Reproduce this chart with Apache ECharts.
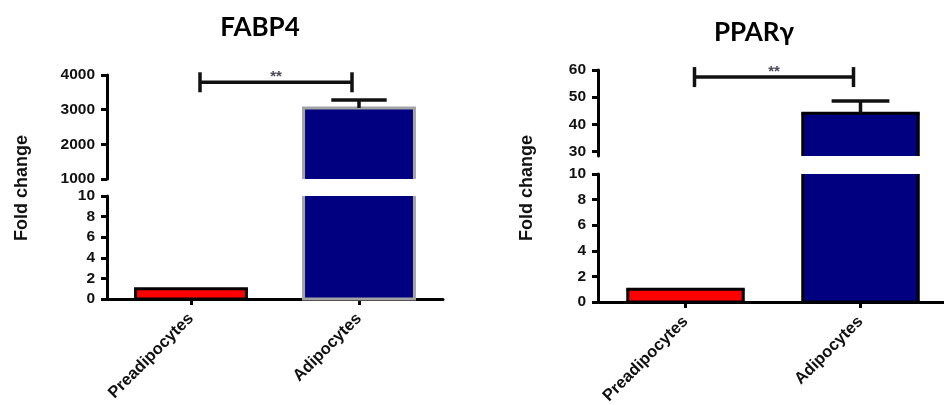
<!DOCTYPE html>
<html>
<head>
<meta charset="utf-8">
<script src="https://cdn.jsdelivr.net/npm/echarts@6/dist/echarts.min.js"></script>
<style>
  html, body { margin: 0; padding: 0; background: #ffffff; }
  #chart { width: 944px; height: 405px; }
</style>
</head>
<body>
<div id="chart"></div>
<script>
// ---------------- data ----------------
const categories = ['Preadipocytes', 'Adipocytes'];
const titles = ['FABP4', 'PPARγ'];
const yTitle = 'Fold change';
const sigLabel = '**';

const fabpMeans = [1.0, 3050];
const fabpSem = [0, 230];
const fabpUpperTicks = [1000, 2000, 3000, 4000];
const fabpLowerTicks = [0, 2, 4, 6, 8, 10];
const fabpBreakMin = 1000;
const fabpSigY = 3790;

const pparMeans = [1.0, 44.1];
const pparSem = [0, 4.5];
const pparUpperTicks = [30, 40, 50, 60];
const pparLowerTicks = [0, 2, 4, 6, 8, 10];
const pparBreakMin = 28.4;
const pparSigY = 57.4;

// ---------------- styles ----------------
const fillColors = ['#ff0000', '#000080'];
const fabpBorder = ['#000000', '#a3a3a3'];
const pparBorder = ['#000000', '#000000'];
const BAR_RATIO = 0.66;
const CAP_RATIO = 0.33;
const FONT = '"Liberation Sans", Arial, sans-serif';

const chart = echarts.init(document.getElementById('chart'), null, { renderer: 'canvas' });

const grids = [
  { left: 107, top: 75, width: 336, height: 104, outerBoundsMode: 'none', containLabel: false },
  { left: 107, top: 196, width: 336, height: 103, outerBoundsMode: 'none', containLabel: false },
  { left: 598, top: 70, width: 350, height: 86, outerBoundsMode: 'none', containLabel: false },
  { left: 598, top: 174, width: 350, height: 128, outerBoundsMode: 'none', containLabel: false }
];

function xAxisDef(gi, showAxis) {
  return {
    type: 'category', gridIndex: gi, data: categories,
    show: showAxis,
    axisLine: { show: true, onZero: false, lineStyle: { color: '#000', width: 3 } },
    axisTick: { show: true, alignWithLabel: true, length: 6, lineStyle: { color: '#000', width: 3 } },
    axisLabel: { rotate: 45, margin: 17, color: '#111', fontFamily: FONT, fontWeight: 'bold', fontSize: 16.5 },
    splitLine: { show: false }
  };
}

function yAxisDef(gi, min, max, ticks) {
  return {
    type: 'value', gridIndex: gi, min: min, max: max,
    axisLine: { show: true, lineStyle: { color: '#000', width: 3 } },
    axisTick: { show: true, length: 6, lineStyle: { color: '#000', width: 3 }, customValues: ticks },
    axisLabel: { color: '#111', fontFamily: FONT, fontWeight: 'bold', fontSize: 15.5, margin: 12,
                 customValues: ticks, formatter: function (v) { return String(v); } },
    splitLine: { show: false }
  };
}

function barSeries(gi, means) {
  return {
    type: 'bar', xAxisIndex: gi, yAxisIndex: gi, barWidth: (BAR_RATIO * 100) + '%',
    clip: true, silent: true, z: 2,
    data: means.map((v, i) => ({ value: v, itemStyle: { color: fillColors[i] } }))
  };
}

function outlineSeries(gi, means, borders) {
  return {
    type: 'custom', xAxisIndex: gi, yAxisIndex: gi, silent: true, z: 3,
    data: means.map((v, i) => [i, v]),
    renderItem: function (params, api) {
      const cs = params.coordSys;
      const idx = api.value(0), v = api.value(1);
      const bw = api.size([1, 0])[0] * BAR_RATIO;
      const top = api.coord([idx, v]);
      const base = api.coord([idx, 0]);
      const aTop = cs.y, aBot = cs.y + cs.height;
      if (top[1] >= aBot) return null;
      const yT = Math.max(top[1], aTop);
      const yB = Math.min(base[1], aBot);
      const xl = top[0] - bw / 2, xr = top[0] + bw / 2;
      const style = { stroke: borders[params.dataIndex], lineWidth: 3, fill: null };
      const ch = [];
      ch.push({ type: 'line', shape: { x1: xl, y1: yB, x2: xl, y2: yT }, style: style });
      ch.push({ type: 'line', shape: { x1: xr, y1: yB, x2: xr, y2: yT }, style: style });
      if (top[1] >= aTop) ch.push({ type: 'line', shape: { x1: xl - 1.5, y1: yT, x2: xr + 1.5, y2: yT }, style: style });
      if (base[1] <= aBot) ch.push({ type: 'line', shape: { x1: xl - 1.5, y1: yB, x2: xr + 1.5, y2: yB }, style: style });
      return { type: 'group', children: ch };
    }
  };
}

function errorSeries(gi, means, sems) {
  return {
    type: 'custom', xAxisIndex: gi, yAxisIndex: gi, silent: true, z: 4,
    data: means.map((v, i) => [i, v, v + sems[i]]).filter((d, i) => sems[i] > 0),
    renderItem: function (params, api) {
      const idx = api.value(0);
      const p0 = api.coord([idx, api.value(1)]);
      const p1 = api.coord([idx, api.value(2)]);
      const cw = api.size([1, 0])[0] * CAP_RATIO;
      const style = { stroke: '#111', lineWidth: 3.5, fill: null };
      return {
        type: 'group', children: [
          { type: 'line', shape: { x1: p0[0], y1: p0[1], x2: p1[0], y2: p1[1] }, style: style },
          { type: 'line', shape: { x1: p1[0] - cw / 2, y1: p1[1], x2: p1[0] + cw / 2, y2: p1[1] }, style: style }
        ]
      };
    }
  };
}

function bracketSeries(gi, y) {
  return {
    type: 'custom', xAxisIndex: gi, yAxisIndex: gi, silent: true, z: 5, clip: false,
    data: [[0, 1, y]],
    renderItem: function (params, api) {
      const a = api.coord([api.value(0), api.value(2)]);
      const b = api.coord([api.value(1), api.value(2)]);
      const x0 = a[0] + 9, x1 = b[0] - 7, yy = a[1];
      const style = { stroke: '#111', lineWidth: 3.5, fill: null };
      return {
        type: 'group', children: [
          { type: 'line', shape: { x1: x0, y1: yy, x2: x1, y2: yy }, style: style },
          { type: 'line', shape: { x1: x0, y1: yy - 10, x2: x0, y2: yy + 10 }, style: style },
          { type: 'line', shape: { x1: x1, y1: yy - 10, x2: x1, y2: yy + 10 }, style: style },
          { type: 'text', x: (x0 + x1) / 2, y: yy - 5,
            style: { text: sigLabel, align: 'center', verticalAlign: 'middle', fill: '#4a4a5a',
                     font: 'bold 15px ' + FONT } }
        ]
      };
    }
  };
}

const titleStyle = { fontFamily: 'Lato, sans-serif', fontWeight: 'bold', fontSize: 26, color: '#000' };

const option = {
  backgroundColor: '#ffffff',
  animation: false,
  title: [
    { text: titles[0], left: 255, top: 10, textAlign: 'center', textStyle: titleStyle },
    { text: titles[1], left: 749, top: 15, textAlign: 'center', textStyle: titleStyle }
  ],
  graphic: [
    { type: 'text', x: 22, y: 188, rotation: Math.PI / 2,
      style: { text: yTitle, align: 'center', verticalAlign: 'middle', fill: '#111', font: 'bold 18px ' + FONT } },
    { type: 'text', x: 527, y: 188, rotation: Math.PI / 2,
      style: { text: yTitle, align: 'center', verticalAlign: 'middle', fill: '#111', font: 'bold 18px ' + FONT } }
  ],
  grid: grids,
  xAxis: [xAxisDef(0, false), xAxisDef(1, true), xAxisDef(2, false), xAxisDef(3, true)],
  yAxis: [
    yAxisDef(0, fabpBreakMin, fabpUpperTicks[fabpUpperTicks.length - 1], fabpUpperTicks),
    yAxisDef(1, fabpLowerTicks[0], fabpLowerTicks[fabpLowerTicks.length - 1], fabpLowerTicks),
    yAxisDef(2, pparBreakMin, pparUpperTicks[pparUpperTicks.length - 1], pparUpperTicks),
    yAxisDef(3, pparLowerTicks[0], pparLowerTicks[pparLowerTicks.length - 1], pparLowerTicks)
  ],
  series: [
    barSeries(0, fabpMeans), barSeries(1, fabpMeans),
    outlineSeries(0, fabpMeans, fabpBorder), outlineSeries(1, fabpMeans, fabpBorder),
    errorSeries(0, fabpMeans, fabpSem), bracketSeries(0, fabpSigY),
    barSeries(2, pparMeans), barSeries(3, pparMeans),
    outlineSeries(2, pparMeans, pparBorder), outlineSeries(3, pparMeans, pparBorder),
    errorSeries(2, pparMeans, pparSem), bracketSeries(2, pparSigY)
  ]
};
chart.setOption(option);
</script>
</body>
</html>
